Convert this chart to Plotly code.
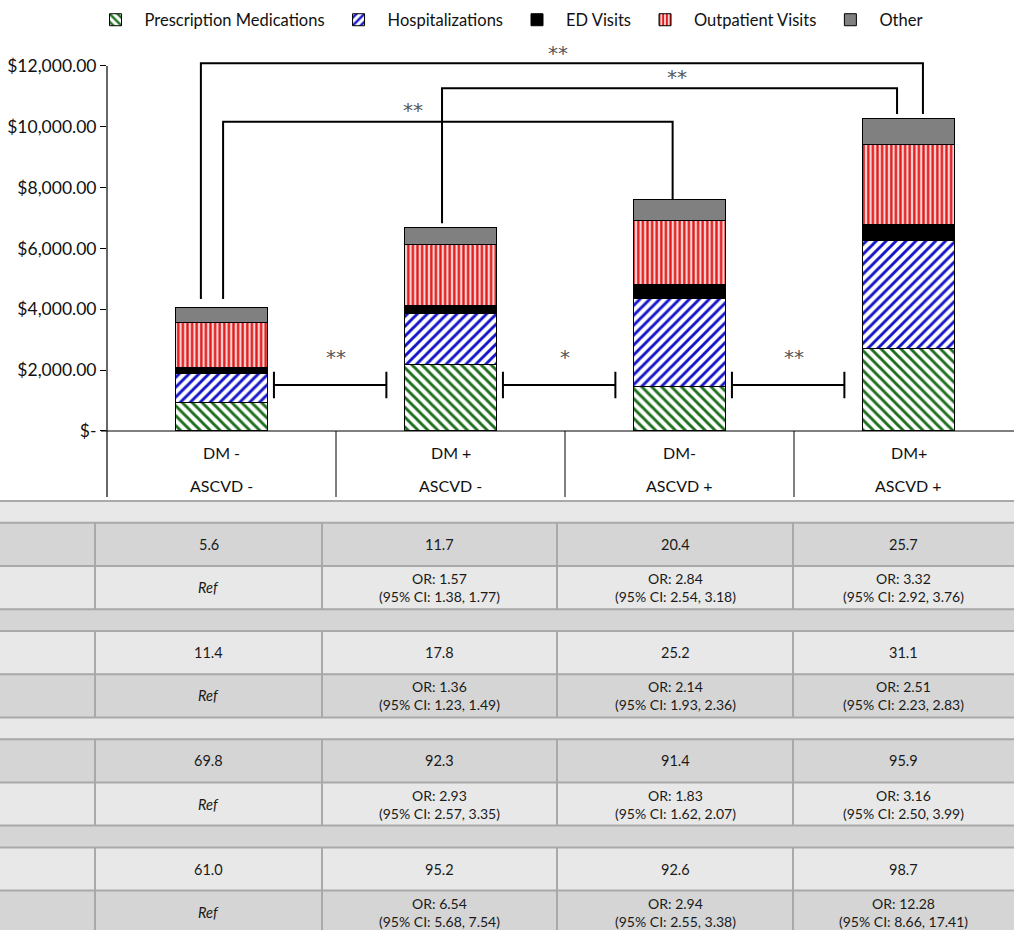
import plotly.graph_objects as go

# ---------------- data ----------------
dm_labels = ["DM -", "DM +", "DM-", "DM+"]
ascvd_labels = ["ASCVD -", "ASCVD -", "ASCVD +", "ASCVD +"]

prescription = [943, 2200, 1455, 2720]
hospitalizations = [954, 1670, 2885, 3535]
ed_visits = [184, 250, 460, 540]
outpatient = [1492, 2020, 2135, 2640]
other = [493, 545, 690, 855]

y_tickvals = [0, 2000, 4000, 6000, 8000, 10000, 12000]
y_ticktext = ["$-", "$2,000.00", "$4,000.00", "$6,000.00",
              "$8,000.00", "$10,000.00", "$12,000.00"]

# table rows: prevalence (%) then odds ratio with 95% CI, for four sections
rates = [
    ["5.6", "11.7", "20.4", "25.7"],
    ["11.4", "17.8", "25.2", "31.1"],
    ["69.8", "92.3", "91.4", "95.9"],
    ["61.0", "95.2", "92.6", "98.7"],
]
odds_ratio = [
    [None, 1.57, 2.84, 3.32],
    [None, 1.36, 2.14, 2.51],
    [None, 2.93, 1.83, 3.16],
    [None, 6.54, 2.94, 12.28],
]
ci_low = [
    [None, 1.38, 2.54, 2.92],
    [None, 1.23, 1.93, 2.23],
    [None, 2.57, 1.62, 2.50],
    [None, 5.68, 2.55, 8.66],
]
ci_high = [
    [None, 1.77, 3.18, 3.76],
    [None, 1.49, 2.36, 2.83],
    [None, 3.35, 2.07, 3.99],
    [None, 7.54, 3.38, 17.41],
]

# ---------------- layout geometry ----------------
W, H = 1014, 930
FONT = "Lato, 'Open Sans', sans-serif"
X_LEFT_PX = 107          # left edge of plotting area
ZERO_PX = 431            # pixel row of $0
PX_PER_DOLLAR = 365 / 12000
CAT_PX = 229             # width of one category
YMAX = 12200
X_RANGE = [-0.5, -0.5 + (W - X_LEFT_PX) / CAT_PX]
TOP_PX = ZERO_PX - YMAX * PX_PER_DOLLAR
LABEL_BOTTOM_PX = 497


def xp(px):
    return px / W


def yp(py):
    return 1 - py / H


def x_px(v):
    return X_LEFT_PX + (v - X_RANGE[0]) * CAT_PX


def y_px(v):
    return ZERO_PX - v * PX_PER_DOLLAR


cats = list(range(len(dm_labels)))
BAR_W = 0.406

series = [
    ("Prescription Medications", prescription,
     dict(color="white", pattern=dict(shape="\\", fgcolor="#1d6e1d", bgcolor="white",
                                      size=7, solidity=0.42, fillmode="replace"))),
    ("Hospitalizations", hospitalizations,
     dict(color="white", pattern=dict(shape="/", fgcolor="#1414c8", bgcolor="white",
                                      size=7, solidity=0.42, fillmode="replace"))),
    ("ED Visits", ed_visits, dict(color="black")),
    ("Outpatient Visits", outpatient,
     dict(color="#f6c8c8", pattern=dict(shape="|", fgcolor="#e01818", bgcolor="#f8d2d2",
                                        size=4.6, solidity=0.5, fillmode="replace"))),
    ("Other", other, dict(color="#808080")),
]

fig = go.Figure()
for name, vals, marker in series:
    m = dict(marker)
    m["line"] = dict(color="black", width=1)
    fig.add_trace(go.Bar(x=cats, y=vals, name=name, width=BAR_W, marker=m,
                         hoverinfo="skip"))

totals = [sum(s[1][i] for s in series) for i in cats]

shapes = []
annotations = []
LINE = dict(color="black", width=2)
STAR_FONT = dict(size=20, color="#555555", family="'DejaVu Sans', sans-serif")


def text_at(x, y, text, font):
    annotations.append(dict(x=x, y=y, xref="paper", yref="paper", text=text,
                            showarrow=False, xanchor="center", yanchor="middle",
                            font=font))


def star_at(xv, yv, text):
    # place a significance label at data coordinates (may sit above the axis range)
    text_at(xp(x_px(xv)), yp(y_px(yv)), text, STAR_FONT)


# significance brackets spanning non-adjacent groups
# (left x, right x, left bar, right bar, gap left, gap right, top, label x, label y)
brackets = [
    (-0.09, 3.063, 0, 3, 273, 131, 12088, 1.47, 12420),
    (0.963, 2.95, 1, 3, 145, 131, 11266, 1.99, 11640),
    (0.007, 1.97, 0, 2, 273, 0, 10168, 0.836, 10560),
]
for xl, xr, il, ir, gl, gr, top, lx, ly in brackets:
    path = (f"M {xl},{totals[il] + gl} L {xl},{top} "
            f"L {xr},{top} L {xr},{totals[ir] + gr}")
    shapes.append(dict(type="path", xref="x", yref="y", path=path, line=LINE))
    star_at(lx, ly, "**")

# adjacent comparisons drawn as capped horizontal lines
adjacent = ["**", "*", "**"]
for i, lab in enumerate(adjacent):
    a, b = i + 0.229, i + 0.72
    path = (f"M {a},1080 L {a},1950 M {a},1510 L {b},1510 "
            f"M {b},1080 L {b},1950")
    shapes.append(dict(type="path", xref="x", yref="y", path=path, line=LINE))
    star_at(i + 0.5, 2440, lab)

# axis lines and category separators
shapes.append(dict(type="line", xref="paper", yref="paper",
                   x0=xp(X_LEFT_PX), x1=xp(X_LEFT_PX),
                   y0=yp(y_px(12000)), y1=yp(LABEL_BOTTOM_PX),
                   line=dict(color="black", width=1.2)))
shapes.append(dict(type="line", xref="paper", yref="paper",
                   x0=xp(X_LEFT_PX - 6), x1=1, y0=yp(ZERO_PX), y1=yp(ZERO_PX),
                   line=dict(color="black", width=1.2)))
for b in [0.5, 1.5, 2.5]:
    shapes.append(dict(type="line", xref="paper", yref="paper",
                       x0=xp(x_px(b)), x1=xp(x_px(b)),
                       y0=yp(ZERO_PX), y1=yp(LABEL_BOTTOM_PX),
                       line=dict(color="black", width=1)))

CAT_FONT = dict(size=16, color="#111111", family=FONT)
for i in cats:
    cx = xp(x_px(i))
    text_at(cx, yp(452), dm_labels[i], CAT_FONT)
    text_at(cx, yp(485), ascvd_labels[i], CAT_FONT)

# ---------------- table ----------------
TABLE_TOP = 501
HDR_H = 21.8
ROW_H = 43.2
COL_EDGES = [0, 95, 322, 557, 793, W]
LIGHT, DARK, GRID = "#e8e8e8", "#d5d5d5", "#a9a9a9"

rows = []  # (kind, section index)
for s in range(len(rates)):
    rows += [("hdr", s), ("rate", s), ("or", s)]

y = TABLE_TOP
bounds = []
for k, (kind, s) in enumerate(rows):
    h = HDR_H if kind == "hdr" else ROW_H
    y0, y1 = y, y + h
    bounds.append(y0)
    shapes.append(dict(type="rect", xref="paper", yref="paper", layer="below",
                       x0=0, x1=1, y0=yp(y0), y1=yp(y1),
                       fillcolor=LIGHT if k % 2 == 0 else DARK, line=dict(width=0)))
    if kind != "hdr":
        for cx in COL_EDGES[1:-1]:
            shapes.append(dict(type="line", xref="paper", yref="paper",
                               x0=xp(cx), x1=xp(cx), y0=yp(y0), y1=yp(y1),
                               line=dict(color=GRID, width=2)))
        for j in range(4):
            mid = xp((COL_EDGES[j + 1] + COL_EDGES[j + 2]) / 2)
            if kind == "rate":
                txt, size = rates[s][j], 14.5
            elif odds_ratio[s][j] is None:
                txt, size = "<i>Ref</i>", 14.5
            else:
                txt = (f"OR: {odds_ratio[s][j]:.2f}<br>(95% CI: "
                       f"{ci_low[s][j]:.2f}, {ci_high[s][j]:.2f})")
                size = 14
            text_at(mid, yp((y0 + y1) / 2), txt,
                    dict(size=size, color="#1a1a1a", family=FONT))
    y = y1
bounds.append(y)
for b in bounds:
    shapes.append(dict(type="line", xref="paper", yref="paper",
                       x0=0, x1=1, y0=yp(b), y1=yp(b),
                       line=dict(color=GRID, width=2)))

fig.update_layout(
    width=W, height=H,
    margin=dict(l=0, r=0, t=0, b=0),
    paper_bgcolor="white", plot_bgcolor="white",
    barmode="stack",
    font=dict(family=FONT, color="#111111"),
    showlegend=True,
    legend=dict(orientation="h", x=0.5, xanchor="center", y=yp(20),
                yanchor="middle", traceorder="normal", font=dict(size=16.5),
                itemwidth=48, bgcolor="rgba(0,0,0,0)"),
    xaxis=dict(domain=[xp(X_LEFT_PX), 1], range=X_RANGE, showgrid=False,
               zeroline=False, showline=False, showticklabels=False, ticks=""),
    yaxis=dict(domain=[yp(ZERO_PX), yp(TOP_PX)], range=[0, YMAX], showgrid=False,
               zeroline=False, showline=False, tickvals=y_tickvals,
               ticktext=y_ticktext, ticks="outside", ticklen=6, tickcolor="black",
               tickfont=dict(size=17.5, color="#111111"), automargin=False),
    shapes=shapes,
    annotations=annotations,
)

fig.write_html("out.html")
